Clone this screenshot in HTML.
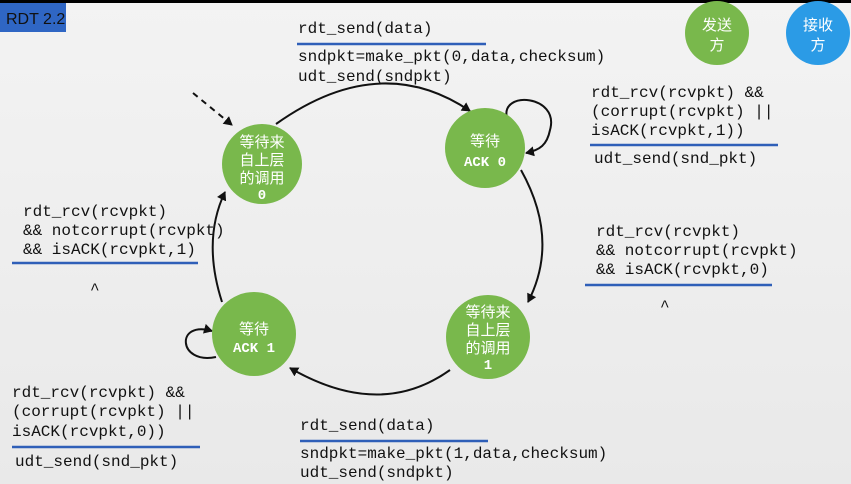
<!DOCTYPE html>
<html><head><meta charset="utf-8"><style>
html,body{margin:0;padding:0;width:851px;height:484px;overflow:hidden;background:#f0f0f0}
svg{display:block}
.m{font-family:"Liberation Mono",monospace;font-size:16px;fill:#111}
.c{font-family:"Liberation Sans","Noto Sans CJK SC",sans-serif;font-size:15px;fill:#fff;text-anchor:middle}
.cm{font-family:"Liberation Mono",monospace;font-size:14px;font-weight:bold;fill:#fff;text-anchor:middle}
</style></head><body>
<svg width="851" height="484" viewBox="0 0 851 484">
<defs>
<marker id="a" markerWidth="10" markerHeight="10" refX="8" refY="5" orient="auto" markerUnits="userSpaceOnUse"><path d="M0,0 L9,5 L0,10 z" fill="#111"/></marker>
<linearGradient id="bg" x1="0" y1="0" x2="0" y2="1"><stop offset="0" stop-color="#f3f3f3"/><stop offset="1" stop-color="#e9e9e9"/></linearGradient>
</defs>
<rect width="851" height="484" fill="url(#bg)"/>
<rect width="851" height="3" fill="#000"/>
<rect x="0" y="3" width="66" height="29" fill="#2f66c4"/>
<text x="6" y="24" font-family="Liberation Sans,sans-serif" font-size="16" fill="#111">RDT 2.2</text>

<circle cx="717" cy="33" r="32" fill="#79b84c"/>
<text class="c" x="717" y="30">发送</text><text class="c" x="717" y="50">方</text>
<circle cx="818" cy="33" r="32" fill="#2b9be6"/>
<text class="c" x="818" y="30">接收</text><text class="c" x="818" y="50">方</text>

<!-- arcs -->
<g fill="none" stroke="#111" stroke-width="2">
<path d="M276,124 Q380,50 470,111" marker-end="url(#a)"/>
<path d="M521,170 Q560,240 528,302" marker-end="url(#a)"/>
<path d="M450,370 Q380,420 290,368" marker-end="url(#a)"/>
<path d="M222,302 Q202,240 225,192" marker-end="url(#a)"/>
<path d="M507,118 C500,90 560,95 550,130 C547,145 540,150 526,153" marker-end="url(#a)"/>
<path d="M216,357 C178,365 175,320 212,331" marker-end="url(#a)"/>
<path d="M193,93 L232,125" stroke-dasharray="6,5" marker-end="url(#a)"/>
</g>

<circle cx="262" cy="164" r="40" fill="#79b84c"/>
<text class="c" x="262" y="147">等待来</text><text class="c" x="262" y="165">自上层</text><text class="c" x="262" y="183">的调用</text><text class="cm" x="262" y="199">0</text>
<circle cx="485" cy="148" r="40" fill="#79b84c"/>
<text class="c" x="485" y="146">等待</text><text class="cm" x="485" y="166">ACK 0</text>
<circle cx="488" cy="337" r="42" fill="#79b84c"/>
<text class="c" x="488" y="317">等待来</text><text class="c" x="488" y="335">自上层</text><text class="c" x="488" y="353">的调用</text><text class="cm" x="488" y="369">1</text>
<circle cx="254" cy="334" r="42" fill="#79b84c"/>
<text class="c" x="254" y="334">等待</text><text class="cm" x="254" y="352">ACK 1</text>

<g class="m">
<text x="298" y="33">rdt_send(data)</text>
<text x="298" y="61">sndpkt=make_pkt(0,data,checksum)</text>
<text x="298" y="81">udt_send(sndpkt)</text>

<text x="591" y="97">rdt_rcv(rcvpkt) &amp;&amp;</text>
<text x="591" y="116">(corrupt(rcvpkt) ||</text>
<text x="591" y="135">isACK(rcvpkt,1))</text>
<text x="594" y="163">udt_send(snd_pkt)</text>

<text x="596" y="236">rdt_rcv(rcvpkt)</text>
<text x="596" y="255">&amp;&amp; notcorrupt(rcvpkt)</text>
<text x="596" y="274">&amp;&amp; isACK(rcvpkt,0)</text>
<text x="660" y="311">^</text>

<text x="23" y="216">rdt_rcv(rcvpkt)</text>
<text x="23" y="235">&amp;&amp; notcorrupt(rcvpkt)</text>
<text x="23" y="254">&amp;&amp; isACK(rcvpkt,1)</text>
<text x="90" y="294">^</text>

<text x="12" y="397">rdt_rcv(rcvpkt) &amp;&amp;</text>
<text x="12" y="416">(corrupt(rcvpkt) ||</text>
<text x="12" y="436">isACK(rcvpkt,0))</text>
<text x="15" y="466">udt_send(snd_pkt)</text>

<text x="300" y="430">rdt_send(data)</text>
<text x="300" y="458">sndpkt=make_pkt(1,data,checksum)</text>
<text x="300" y="477">udt_send(sndpkt)</text>
</g>

<g stroke="#2f5fb8" stroke-width="2.5">
<line x1="297" y1="44" x2="486" y2="44"/>
<line x1="590" y1="145" x2="778" y2="145"/>
<line x1="585" y1="285" x2="772" y2="285"/>
<line x1="12" y1="263" x2="198" y2="263"/>
<line x1="12" y1="447" x2="200" y2="447"/>
<line x1="300" y1="441" x2="488" y2="441"/>
</g>
</svg>
</body></html>
